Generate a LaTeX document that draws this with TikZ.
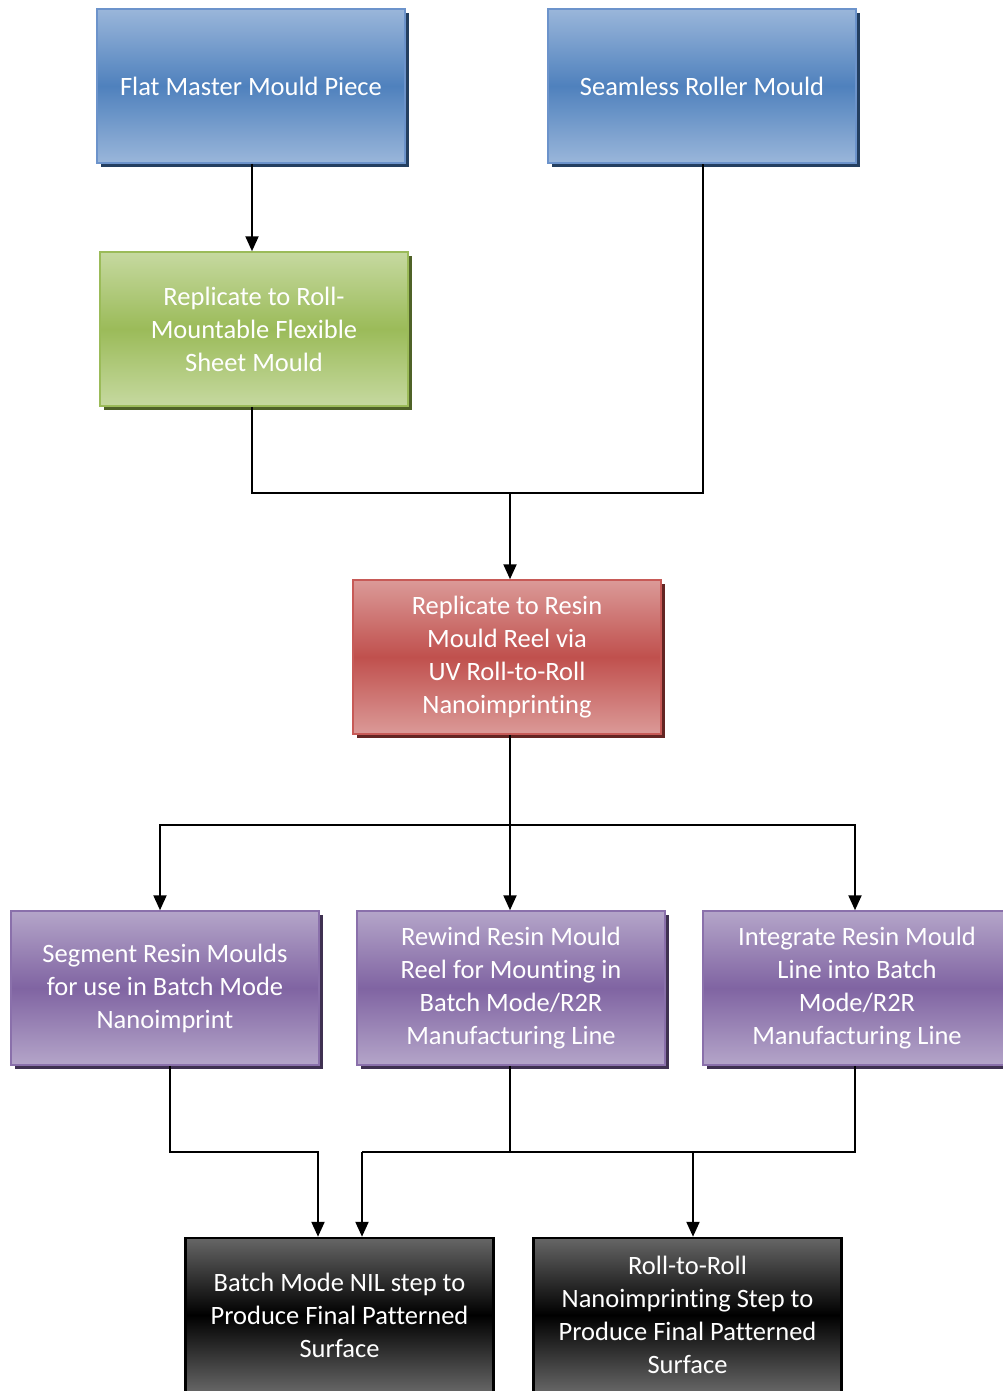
\documentclass[tikz,border=0pt]{standalone}
\usepackage{fontspec}
\setmainfont[Ligatures={NoCommon}]{Carlito}
\usetikzlibrary{arrows.meta,shadows,calc}
\definecolor{bluelt}{HTML}{9AB6DA}
\definecolor{bluemd}{HTML}{4F81BD}
\definecolor{bluedk}{HTML}{243F60}
\definecolor{bluebd}{HTML}{6C93CB}
\definecolor{greenlt}{HTML}{C6D9A0}
\definecolor{greenmd}{HTML}{9BBB59}
\definecolor{greendk}{HTML}{4F6228}
\definecolor{greenbd}{HTML}{9BBB59}
\definecolor{redlt}{HTML}{DB9A98}
\definecolor{redmd}{HTML}{C0504D}
\definecolor{reddk}{HTML}{632523}
\definecolor{redbd}{HTML}{C75A57}
\definecolor{purplt}{HTML}{B4A5C9}
\definecolor{purpmd}{HTML}{8064A2}
\definecolor{purpdk}{HTML}{3F3151}
\definecolor{purpbd}{HTML}{8A70AB}
\definecolor{greylt}{HTML}{666666}
\tikzset{
  box/.style={rectangle, minimum width=308pt, minimum height=154pt, inner sep=0pt,
    align=center, text=white, font=\fontsize{26.5}{33}\selectfont, line width=1.5pt},
  bluebox/.style={box, draw=bluebd, top color=bluelt, bottom color=bluelt, middle color=bluemd,
    general shadow={fill=bluedk, shadow xshift=4pt, shadow yshift=-4pt}},
  greenbox/.style={box, draw=greenbd, top color=greenlt, bottom color=greenlt, middle color=greenmd,
    general shadow={fill=greendk, shadow xshift=4pt, shadow yshift=-4pt}},
  redbox/.style={box, draw=redbd, top color=redlt, bottom color=redlt, middle color=redmd,
    general shadow={fill=reddk, shadow xshift=4pt, shadow yshift=-4pt}},
  purpbox/.style={box, draw=purpbd, top color=purplt, bottom color=purplt, middle color=purpmd,
    general shadow={fill=purpdk, shadow xshift=4pt, shadow yshift=-4pt}},
  blackbox/.style={box, draw=black, line width=2.5pt, top color=greylt, bottom color=greylt, middle color=black},
  conn/.style={draw=black, line width=2.2pt},
  arr/.style={conn, -{Triangle[width=13pt,length=15pt]}},
}
\begin{document}
\begin{tikzpicture}[x=1pt,y=-1pt]
\useasboundingbox (0,0) rectangle (1002,1391);
\node[bluebox] (flat) at (251,86) {Flat Master Mould Piece};
\node[bluebox] (seam) at (702,86) {Seamless Roller Mould};
\node[greenbox] (green) at (254,329) {Replicate to Roll-\\Mountable Flexible\\Sheet Mould};
\node[redbox] (red) at (507,657) {Replicate to Resin\\Mould Reel via\\UV Roll-to-Roll\\Nanoimprinting};
\node[purpbox] (p1) at (165,988) {Segment Resin Moulds\\for use in Batch Mode\\Nanoimprint};
\node[purpbox] (p2) at (511,988) {Rewind Resin Mould\\Reel for Mounting in\\Batch Mode/R2R\\Manufacturing Line};
\node[purpbox] (p3) at (857,988) {Integrate Resin Mould\\Line into Batch\\Mode/R2R\\Manufacturing Line};
\node[blackbox] (b1) at (339.5,1315) {Batch Mode NIL step to\\Produce Final Patterned\\Surface};
\node[blackbox] (b2) at (687.5,1315) {Roll-to-Roll\\Nanoimprinting Step to\\Produce Final Patterned\\Surface};

\coordinate (f1) at (252,163);
\coordinate (g1) at (252,406);
\coordinate (s1) at (703,163);
\coordinate (j1) at (510,493);
\coordinate (j2) at (510,825);
\coordinate (a1) at (160,825);
\coordinate (a3) at (855,825);
\coordinate (k1) at (170,1152);
\coordinate (j3) at (318,1152);
\coordinate (j4) at (510,1152);
\coordinate (j5) at (362,1152);
\coordinate (j6) at (693,1152);
\coordinate (j7) at (855,1152);

\draw[arr] (f1 |- flat.south) -- (f1 |- green.north);
\draw[conn] (g1 |- green.south) |- (j1) -| (s1 |- seam.south);
\draw[arr] (j1) -- (j1 |- red.north);
\draw[conn] (j2 |- red.south) -- (j2);
\draw[arr] (j2) -- (a1) -- (a1 |- p1.north);
\draw[arr] (j2) -- (a3) -- (a3 |- p3.north);
\draw[arr] (j2) -- (j2 |- p2.north);
\draw[arr] (k1 |- p1.south) -- (k1) -- (j3) -- (j3 |- b1.north);
\draw[conn] (j4 |- p2.south) -- (j4);
\draw[conn] (j7 |- p3.south) -- (j7) -- (j5);
\draw[arr] (j5) -- (j5 |- b1.north);
\draw[arr] (j6) -- (j6 |- b2.north);
\end{tikzpicture}
\end{document}
